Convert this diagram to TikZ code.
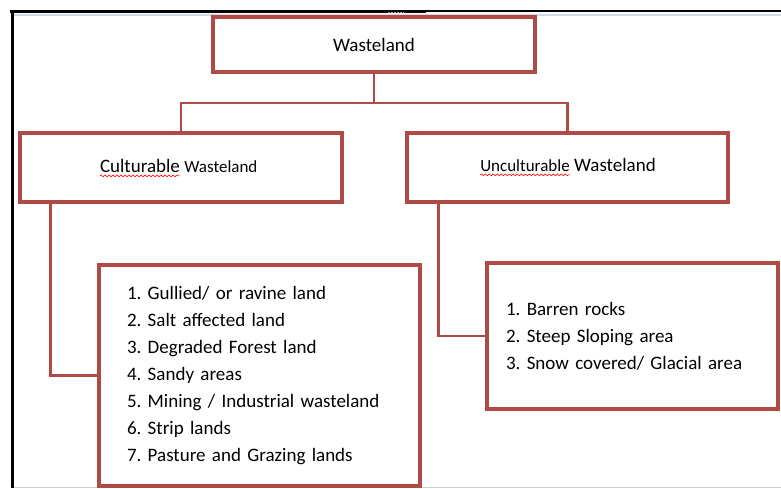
\documentclass[tikz,border=0pt]{standalone}
\usepackage{fontspec}
\setmainfont{Carlito}
\usetikzlibrary{shadows,decorations.pathmorphing}
\definecolor{boxred}{RGB}{176,74,71}
\definecolor{framblue}{RGB}{205,220,228}
\frenchspacing
\begin{document}
\begin{tikzpicture}[x=1pt,y=-1pt,
  box/.style={draw=boxred, line width=3.5pt, fill=white, inner sep=0pt,
    drop shadow={shadow xshift=2pt,shadow yshift=-2pt,opacity=0.25}},
  link/.style={draw=boxred, line width=2.5pt},
  lbl/.style={inner sep=0pt, font=\fontsize{19}{23}\selectfont},
  sml/.style={inner sep=0pt, font=\fontsize{17}{20}\selectfont},
  wavy/.style={draw=red, line width=0.6pt, decorate,
    decoration={snake, amplitude=0.9pt, segment length=4pt}},
  listbox/.style={box, align=left, font=\fontsize{19}{27}\selectfont}]
\useasboundingbox (0,0) rectangle (781,488);
\fill[white] (0,0) rectangle (781,488);
% frame
\draw[line width=3pt] (10,11) -- (426,11);
\draw[line width=2pt] (426,11) -- (781,11);
\draw[line width=3pt] (12.5,10) -- (12.5,488);
\draw[framblue, line width=2pt] (14,14.5) -- (781,14.5);
\draw[gray!35, line width=1pt] (14,487) -- (781,487);
\draw[gray!70, line width=1pt, dash pattern=on 1.5pt off 1.5pt] (388,12) -- (404,12);
% boxes
\node[box, minimum width=322pt, minimum height=55pt, font=\fontsize{19}{23}\selectfont] (w) at (374,44.5) {Wasteland};
\node[box, minimum width=322pt, minimum height=69pt] (c) at (181,167.5) {};
\node[lbl, anchor=base] (ca) at (140,172) {Culturable};
\node[sml, anchor=base west] (cb) at ([xshift=4pt]ca.base east) {Wasteland};
\draw[wavy] ([yshift=-3.5pt]ca.south west) -- ([yshift=-3.5pt]ca.south east);
\node[box, minimum width=321pt, minimum height=69pt] (u) at (567.5,167.5) {};
\node[sml, anchor=base] (ua) at (525,171) {Unculturable};
\node[lbl, anchor=base west] (ub) at ([xshift=4pt]ua.base east) {Wasteland};
\draw[wavy] ([yshift=-3.5pt]ua.south west) -- ([yshift=-3.5pt]ua.south east);
\node[listbox, minimum width=321pt, minimum height=221pt, text width=265pt, inner xsep=28pt] (l1) at (259.5,375.5)
  {1. Gullied/ or ravine land\\
   2. Salt affected land\\
   3. Degraded Forest land\\
   4. Sandy areas\\
   5. Mining / Industrial wasteland\\
   6. Strip lands\\
   7. Pasture and Grazing lands};
\node[listbox, minimum width=291pt, minimum height=146pt, text width=253pt, inner xsep=19pt] (l2) at (632.5,336)
  {1. Barren rocks\\
   2. Steep Sloping area\\
   3. Snow covered/ Glacial area};
% connectors
\coordinate (j) at (374,103);
\draw[link] (w.south) -- (j);
\draw[link] (c.north) |- (j) -| (u.north);
\draw[link] ([xshift=32pt]c.south west) |- (l1.west);
\draw[link] ([xshift=33pt]u.south west) |- (l2.west);
\end{tikzpicture}
\end{document}
